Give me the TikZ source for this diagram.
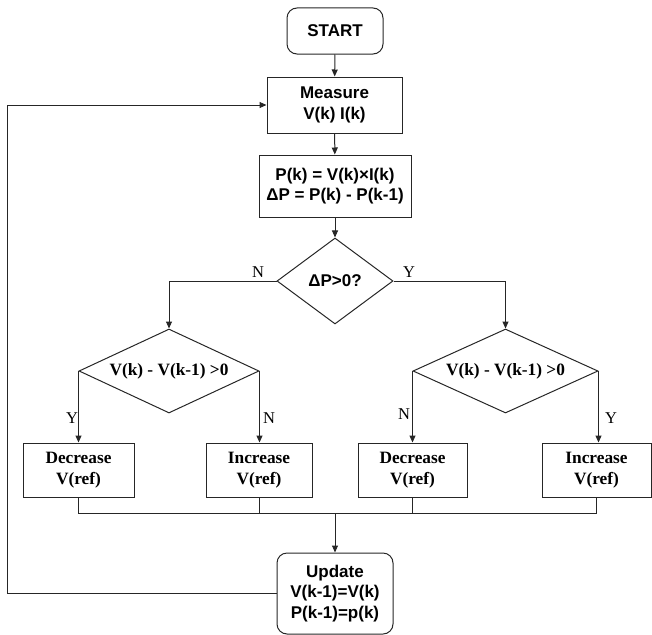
\documentclass[tikz,border=0pt]{standalone}
\usepackage{fontspec}
\setmainfont{Liberation Serif}
\newfontfamily\arialf{Liberation Sans}
\usetikzlibrary{shapes.geometric,arrows.meta}
\begin{document}
\begin{tikzpicture}[x=1pt,y=-1pt,
  line/.style={draw=black!85, line width=1pt},
  arr/.style={line, -{Triangle[length=7pt,width=6pt]}},
  sansb/.style={font=\arialf\bfseries\fontsize{17}{20.5}\selectfont},
  serifb/.style={font=\bfseries\fontsize{17.3}{20.5}\selectfont},
  box/.style={draw=black!85, line width=1pt, rectangle, align=center, inner sep=0pt},
  rbox/.style={box, rounded corners=10pt},
  dia/.style={draw=black!85, line width=1pt, diamond, inner sep=0pt},
  lbl/.style={font=\fontsize{16.5}{20}\selectfont, inner sep=0pt}]
\useasboundingbox (0,0) rectangle (652,634);
% top chain
\node[rbox, sansb, minimum width=96pt, minimum height=46pt] (start) at (335,31) {START};
\node[box, sansb, minimum width=135pt, minimum height=56pt] (meas) at (334.5,105) {Measure\\V(k) I(k)};
\node[box, sansb, minimum width=152pt, minimum height=62pt] (pow) at (335,186) {P(k) = V(k)×I(k)\\ΔP = P(k) - P(k-1)};
\node[dia, sansb, minimum width=116pt, minimum height=86pt] (d1) at (335,281) {\makebox[0pt]{ΔP>0?}};
% second level diamonds
\node[dia, minimum width=180pt, minimum height=84pt] (dl) at (169,371) {};
\node[serifb, inner sep=0pt] (dlt) at (169,371) {V(k) - V(k-1) >0};
\node[dia, minimum width=185pt, minimum height=84pt] (dr) at (505.5,371) {};
\node[serifb, inner sep=0pt] (drt) at (505.5,371) {V(k) - V(k-1) >0};
% action boxes
\node[box, serifb, minimum width=111pt, minimum height=54pt] (dec1) at (78.5,470) {Decrease\\V(ref)};
\node[box, serifb, minimum width=106pt, minimum height=54pt] (inc1) at (259,470) {Increase\\V(ref)};
\node[box, serifb, minimum width=109pt, minimum height=54pt] (dec2) at (412.5,470) {Decrease\\V(ref)};
\node[box, serifb, minimum width=109pt, minimum height=54pt] (inc2) at (596.5,470) {Increase\\V(ref)};
% update
\node[rbox, sansb, minimum width=116pt, minimum height=81pt] (upd) at (335,593.5) {Update\\V(k-1)=V(k)\\P(k-1)=p(k)};
% labels
\node[lbl] (lN) at (258,272) {N};
\node[lbl] (lY) at (409,272) {Y};
\node[lbl] (lY1) at (72,418) {Y};
\node[lbl] (lN1) at (269,418) {N};
\node[lbl] (lN2) at (404,414) {N};
\node[lbl] (lY2) at (611,418) {Y};
% coordinates
\coordinate (bus) at (335,513);
\coordinate (loopx) at (7,594);
% connectors
\draw[arr] (start) -- (meas);
\draw[arr] (meas) -- (pow);
\draw[arr] (pow) -- (d1);
\draw[arr] (d1.west) -| (dl.north);
\draw[arr] (d1.east) -| (dr.north);
\draw[arr] (dl.west) -- (dl.west |- dec1.north);
\draw[arr] (dl.east) -- (dl.east |- inc1.north);
\draw[arr] (dr.west) -- (dr.west |- dec2.north);
\draw[arr] (dr.east) -- (dr.east |- inc2.north);
\draw[line] (dec1.south) -- (dec1.south |- bus) -- (inc2.south |- bus) -- (inc2.south);
\draw[line] (inc1.south) -- (inc1.south |- bus);
\draw[line] (dec2.south) -- (dec2.south |- bus);
\draw[arr] (bus) -- (upd.north);
\draw[arr] (upd.west) -- (upd.west -| loopx) |- (meas.west);
\end{tikzpicture}
\end{document}
